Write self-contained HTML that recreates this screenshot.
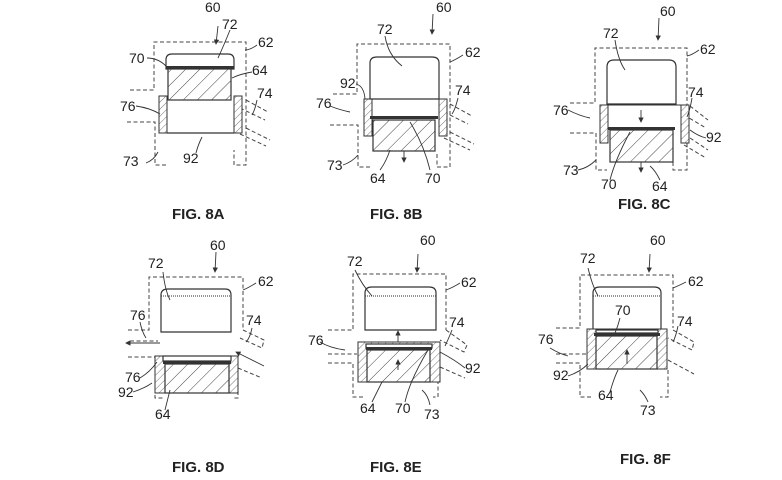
<!DOCTYPE html>
<html><head><meta charset="utf-8"><style>
html,body{margin:0;padding:0;background:#fff;width:782px;height:480px;overflow:hidden}
text{font-family:"Liberation Sans",sans-serif;font-size:14px;fill:#222}
.f{font-weight:bold;font-size:15px}
.d{fill:none;stroke:#444;stroke-width:1;stroke-dasharray:4,2.5}
.s{fill:#fff;stroke:#333;stroke-width:1.2}
.h{fill:url(#hb);stroke:#333;stroke-width:1.2}
.w{fill:url(#hs);stroke:#333;stroke-width:1}
.l{fill:none;stroke:#333;stroke-width:0.9}
.b{fill:#333}
</style></head><body>
<svg width="782" height="480" viewBox="0 0 782 480" xmlns="http://www.w3.org/2000/svg">
<defs>
<pattern id="hb" width="10" height="10" patternUnits="userSpaceOnUse" patternTransform="rotate(45)"><rect width="10" height="10" fill="#fff"/><line x1="0" y1="0" x2="0" y2="10" stroke="#444" stroke-width="1"/></pattern>
<pattern id="hs" width="5" height="5" patternUnits="userSpaceOnUse" patternTransform="rotate(45)"><rect width="5" height="5" fill="#fff"/><line x1="0" y1="0" x2="0" y2="5" stroke="#555" stroke-width="0.8"/></pattern>
<marker id="ar" markerWidth="6" markerHeight="6" refX="5" refY="3" orient="auto"><path d="M0,0 L6,3 L0,6 z" fill="#333"/></marker>
</defs>

<!-- FIG 8A -->
<path class="d" d="M130,90 H154 V42 H246 V165 H234 V150"/>
<path class="d" d="M127,122 H155 V165 H168"/>
<path class="d" d="M246,100 L268,112 M240,108 L265,120 M246,128 L270,140 M240,134 L266,146"/>
<rect class="w" x="159" y="96" width="8" height="37"/>
<rect class="w" x="234" y="96" width="8" height="37"/>
<path class="s" d="M166,69 V60 Q166,54 172,54 H228 Q234,54 234,60 V69 Z"/>
<rect class="b" x="166" y="66" width="68" height="3"/>
<rect class="h" x="168" y="69" width="63" height="31"/>
<line class="l" x1="167" y1="133" x2="234" y2="133" style="stroke-width:1.3"/>
<line x1="218" y1="26" x2="216" y2="44" class="l" marker-end="url(#ar)"/>
<path class="l" d="M147,58 Q158,58 166,66 M230,30 Q224,45 218,58 M257,45 Q250,50 245,50 M252,72 Q240,74 232,78 M257,100 Q255,110 252,115 M136,106 Q150,108 160,114 M146,163 Q154,160 158,152 M196,153 Q198,145 202,137"/>
<text x="205" y="12">60</text><text x="222" y="29">72</text><text x="258" y="47">62</text>
<text x="129" y="63">70</text><text x="252" y="75">64</text><text x="257" y="98">74</text>
<text x="120" y="111">76</text><text x="123" y="166">73</text><text x="183" y="163">92</text>
<text class="f" x="172" y="219">FIG. 8A</text>

<!-- FIG 8B -->
<path class="d" d="M333,94 H357 V44 H450 V167 H437 V152"/>
<path class="d" d="M330,125 H358 V167 H370"/>
<path class="d" d="M450,104 L472,116 M444,112 L468,124 M450,132 L474,144 M444,138 L470,150"/>
<rect class="w" x="364" y="99" width="8" height="37"/>
<rect class="w" x="439" y="99" width="8" height="37"/>
<line class="l" x1="364" y1="99" x2="447" y2="99"/>
<path class="s" d="M370,99 V63 Q370,57 377,57 H432 Q439,57 439,63 V99 Z"/>
<rect class="b" x="370" y="116" width="68" height="3"/>
<rect class="h" x="373" y="120" width="62" height="31"/>
<line x1="404" y1="151" x2="404" y2="162" class="l" marker-end="url(#ar)"/>
<line x1="433" y1="14" x2="432" y2="34" class="l" marker-end="url(#ar)"/>
<path class="l" d="M385,36 Q388,55 402,66 M463,55 Q455,60 450,62 M356,84 Q364,86 365,99 M458,98 Q455,110 452,114 M330,106 Q340,110 350,112 M343,165 Q352,162 358,155 M380,170 Q386,162 390,150 M430,170 Q424,145 410,122"/>
<text x="436" y="12">60</text><text x="377" y="34">72</text><text x="465" y="57">62</text>
<text x="340" y="88">92</text><text x="455" y="95">74</text><text x="316" y="108">76</text>
<text x="327" y="170">73</text><text x="370" y="183">64</text><text x="425" y="183">70</text>
<text class="f" x="370" y="219">FIG. 8B</text>

<!-- FIG 8C -->
<path class="d" d="M570,103 H595 V48 H687 V170 H673 V155"/>
<path class="d" d="M570,133 H596 V170 H607"/>
<path class="d" d="M690,106 L708,120 M684,115 L706,128 M690,138 L708,150 M684,145 L706,158"/>
<rect class="w" x="600" y="105" width="8" height="38"/>
<rect class="w" x="681" y="105" width="8" height="38"/>
<line class="l" x1="600" y1="105" x2="689" y2="105"/>
<path class="s" d="M607,104 V67 Q607,60 614,60 H669 Q676,60 676,67 V104 Z"/>
<rect class="b" x="608" y="127" width="67" height="3"/>
<rect class="h" x="610" y="130" width="63" height="32"/>
<line x1="641" y1="110" x2="641" y2="122" class="l" marker-end="url(#ar)"/>
<line x1="641" y1="162" x2="641" y2="172" class="l" marker-end="url(#ar)"/>
<line x1="659" y1="18" x2="658" y2="40" class="l" marker-end="url(#ar)"/>
<path class="l" d="M615,40 Q618,60 625,70 M699,50 Q692,55 687,56 M692,98 Q690,110 687,117 M568,110 Q580,116 590,118 M706,138 Q698,136 690,130 M578,170 Q588,168 596,160 M610,180 Q615,160 630,132 M660,180 Q655,170 650,166"/>
<text x="660" y="16">60</text><text x="603" y="38">72</text><text x="700" y="54">62</text>
<text x="688" y="97">74</text><text x="553" y="115">76</text><text x="706" y="142">92</text>
<text x="563" y="175">73</text><text x="601" y="189">70</text><text x="652" y="191">64</text>
<text class="f" x="618" y="209">FIG. 8C</text>

<!-- FIG 8D -->
<path class="d" d="M128,330 H149 V277 H243 V330"/>
<path class="d" d="M130,341 H158 M128,357 H155 V398 H165"/>
<path class="d" d="M243,330 L264,340 L262,348 L240,338 M238,368 L262,378 M238,378 V398 H232"/>
<path class="s" d="M161,332 V295 Q161,289 168,289 H225 Q231,289 231,295 V332 Z"/>
<line class="l" x1="161" y1="296" x2="231" y2="296" style="stroke-dasharray:1,1"/>
<line x1="160" y1="343" x2="126" y2="343" class="l" marker-end="url(#ar)"/>
<line x1="264" y1="366" x2="236" y2="352" class="l" marker-end="url(#ar)"/>
<rect class="w" x="155" y="356" width="83" height="37"/>
<rect class="s" x="163" y="356" width="68" height="5" style="fill:#fff"/>
<rect class="b" x="163" y="361" width="68" height="3"/>
<rect class="h" x="165" y="364" width="64" height="29"/>
<line x1="216" y1="252" x2="215" y2="272" class="l" marker-end="url(#ar)"/>
<path class="l" d="M163,272 Q165,290 170,300 M256,283 Q248,288 243,290 M252,328 Q250,338 246,342 M140,322 Q142,332 146,338 M140,378 Q150,372 157,362 M133,392 Q145,388 152,383 M165,410 Q168,398 170,390"/>
<text x="210" y="250">60</text><text x="148" y="268">72</text><text x="258" y="286">62</text>
<text x="130" y="320">76</text><text x="246" y="325">74</text><text x="125" y="382">76</text>
<text x="118" y="397">92</text><text x="155" y="419">64</text>
<text class="f" x="172" y="472">FIG. 8D</text>

<!-- FIG 8E -->
<path class="d" d="M328,330 H353 V274 H446 V330"/>
<path class="d" d="M328,354 H357 M328,363 H353 V397 H363"/>
<path class="d" d="M446,330 L467,345 L464,352 L440,340 M440,367 L465,378 M438,380 V397 H433"/>
<path class="s" d="M365,330 V293 Q365,287 372,287 H429 Q436,287 436,293 V330 Z"/>
<line class="l" x1="365" y1="296" x2="436" y2="296" style="stroke-dasharray:1,1"/>
<rect class="w" x="358" y="342" width="82" height="40"/>
<rect class="s" x="366" y="344" width="66" height="4"/>
<rect class="b" x="366" y="347" width="66" height="3"/>
<rect class="h" x="367" y="350" width="63" height="32"/>
<line x1="398" y1="342" x2="398" y2="331" class="l" marker-end="url(#ar)"/>
<line x1="398" y1="370" x2="398" y2="360" class="l" marker-end="url(#ar)"/>
<line x1="418" y1="254" x2="417" y2="272" class="l" marker-end="url(#ar)"/>
<path class="l" d="M355,270 Q362,285 372,296 M460,283 Q452,288 446,290 M452,330 Q448,340 445,346 M320,342 Q330,348 345,350 M465,368 Q455,360 440,352 M372,402 Q378,390 382,382 M405,402 Q410,380 428,350 M430,405 Q428,395 422,390"/>
<text x="420" y="245">60</text><text x="347" y="266">72</text><text x="461" y="287">62</text>
<text x="449" y="327">74</text><text x="308" y="345">76</text><text x="465" y="373">92</text>
<text x="360" y="413">64</text><text x="395" y="413">70</text><text x="424" y="419">73</text>
<text class="f" x="370" y="472">FIG. 8E</text>

<!-- FIG 8F -->
<path class="d" d="M556,328 H580 V275 H673 V328"/>
<path class="d" d="M556,354 H586 M556,363 H580 V397 H592"/>
<path class="d" d="M673,330 L694,342 L692,350 L668,338 M668,360 L694,374 M668,370 V397 H660"/>
<path class="s" d="M593,330 V293 Q593,287 600,287 H654 Q661,287 661,293 V330 Z"/>
<line class="l" x1="593" y1="296" x2="661" y2="296" style="stroke-dasharray:1,1"/>
<rect class="w" x="587" y="329" width="80" height="40"/>
<rect class="s" x="596" y="330" width="62" height="3"/>
<rect class="b" x="594" y="333" width="66" height="3"/>
<rect class="h" x="596" y="336" width="61" height="33"/>
<line x1="627" y1="364" x2="627" y2="350" class="l" marker-end="url(#ar)"/>
<line x1="650" y1="254" x2="649" y2="272" class="l" marker-end="url(#ar)"/>
<path class="l" d="M588,268 Q592,285 598,296 M686,282 Q678,286 673,288 M620,318 Q618,326 615,333 M678,326 Q676,336 673,342 M550,348 Q560,354 568,356 M568,376 Q580,372 588,364 M610,392 Q614,378 618,370 M648,402 Q645,395 640,390"/>
<text x="650" y="245">60</text><text x="580" y="263">72</text><text x="688" y="286">62</text>
<text x="615" y="315">70</text><text x="677" y="326">74</text><text x="538" y="344">76</text>
<text x="553" y="380">92</text><text x="598" y="400">64</text><text x="640" y="415">73</text>
<text class="f" x="620" y="464">FIG. 8F</text>
</svg>
</body></html>
